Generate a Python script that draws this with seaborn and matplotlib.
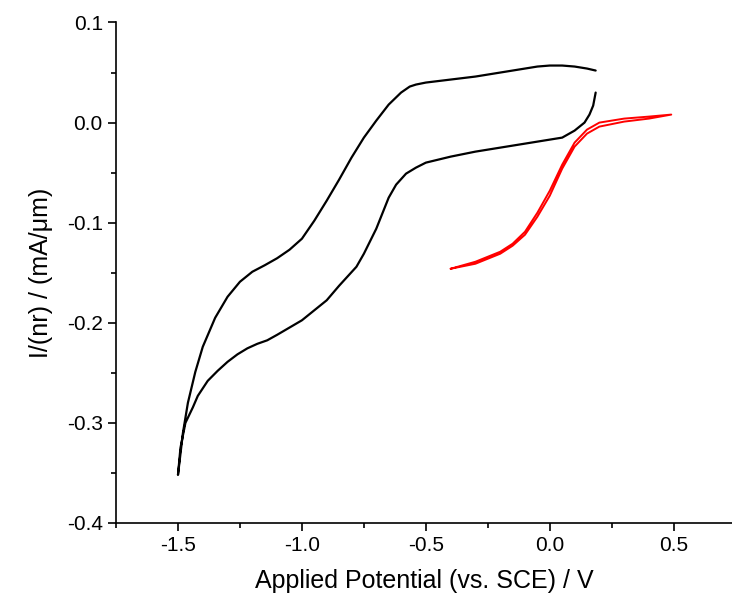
import matplotlib
matplotlib.use("Agg")
import matplotlib.pyplot as plt
from matplotlib.ticker import MultipleLocator
import seaborn as sns
import pandas as pd

# Black CV: upper (cathodic sweep, right -> left) then lower (return)
black_x = [0.185, 0.15, 0.1, 0.05, 0.0, -0.05, -0.1, -0.2, -0.3, -0.4, -0.5, -0.54, -0.565,
           -0.6, -0.65, -0.7, -0.75, -0.8, -0.85, -0.9, -0.95, -1.0, -1.05, -1.1, -1.15, -1.2,
           -1.25, -1.3, -1.35, -1.4, -1.43, -1.46, -1.48, -1.5,
           -1.49, -1.47, -1.44, -1.42, -1.38, -1.34, -1.3, -1.26, -1.22, -1.18, -1.14, -1.1, -1.0,
           -0.9, -0.85, -0.78, -0.75, -0.7, -0.65, -0.62, -0.58, -0.54, -0.5, -0.4, -0.3, -0.2,
           -0.1, 0.0, 0.05, 0.1, 0.12, 0.14, 0.16, 0.175, 0.185]
black_y = [0.052, 0.054, 0.056, 0.057, 0.057, 0.056, 0.054, 0.050, 0.046, 0.043, 0.040, 0.038, 0.036,
           0.030, 0.018, 0.002, -0.015, -0.035, -0.057, -0.078, -0.098, -0.116, -0.127, -0.1355, -0.1425, -0.149,
           -0.159, -0.174, -0.195, -0.224, -0.249, -0.28, -0.31, -0.352,
           -0.325, -0.300, -0.2845, -0.273, -0.258, -0.248, -0.239, -0.2315, -0.2255, -0.221, -0.2175, -0.212, -0.1975,
           -0.1775, -0.163, -0.144, -0.131, -0.106, -0.075, -0.062, -0.051, -0.045, -0.040, -0.034, -0.029, -0.025,
           -0.021, -0.017, -0.015, -0.008, -0.004, 0.0, 0.008, 0.017, 0.030]

# Red CV loop
red_x = [-0.4, -0.3, -0.2, -0.15, -0.1, -0.05, 0.0, 0.05, 0.1, 0.15, 0.2, 0.3, 0.4, 0.49,
         0.4, 0.3, 0.2, 0.15, 0.1, 0.05, 0.0, -0.05, -0.1, -0.15, -0.2, -0.3, -0.4]
red_y = [-0.146, -0.139, -0.129, -0.121, -0.109, -0.090, -0.068, -0.042, -0.020, -0.007, 0.000, 0.004, 0.006, 0.008,
         0.004, 0.001, -0.004, -0.011, -0.024, -0.046, -0.073, -0.094, -0.112, -0.123, -0.131, -0.141, -0.146]

x_ticks = [-1.5, -1.0, -0.5, 0.0, 0.5]
y_ticks = [-0.4, -0.3, -0.2, -0.1, 0.0, 0.1]

df_black = pd.DataFrame({"x": black_x, "y": black_y, "i": range(len(black_x))})
df_red = pd.DataFrame({"x": red_x, "y": red_y, "i": range(len(red_x))})

sns.set_theme(style="ticks")
plt.rcParams["font.family"] = ["Liberation Sans", "DejaVu Sans"]

fig = plt.figure(figsize=(7.32, 6.01), dpi=100)
ax = fig.add_axes([116 / 732, 1 - 523 / 601, 1 - 116 / 732, (523 - 22.5) / 601])

sns.lineplot(data=df_black, x="x", y="y", sort=False, estimator=None, color="black",
             linewidth=1.6, ax=ax)
sns.lineplot(data=df_red, x="x", y="y", sort=False, estimator=None, color="#ff0000",
             linewidth=1.4, ax=ax)

ax.set_xlim(-1.75, 0.735)
ax.set_ylim(-0.4, 0.1)
ax.set_xticks(x_ticks)
ax.set_xticklabels([f"{v:.1f}" for v in x_ticks])
ax.set_yticks(y_ticks)
ax.set_yticklabels([f"{v:.1f}" for v in y_ticks])
ax.xaxis.set_minor_locator(MultipleLocator(0.25))
ax.yaxis.set_minor_locator(MultipleLocator(0.05))
ax.tick_params(which="major", direction="out", length=6, width=1.2, labelsize=15, color="black",
               labelcolor="black")
ax.tick_params(which="minor", direction="out", length=3.5, width=1.2, color="black")
for s in ["top", "right"]:
    ax.spines[s].set_visible(False)
for s in ["left", "bottom"]:
    ax.spines[s].set_linewidth(1.2)
    ax.spines[s].set_color("black")

ax.set_xlabel("Applied Potential (vs. SCE) / V", fontsize=18, labelpad=10, color="black")
ax.set_ylabel("I/(nr) / (mA/\u03bcm)", fontsize=18, labelpad=10, color="black")

fig.savefig("out.png", dpi=100)
